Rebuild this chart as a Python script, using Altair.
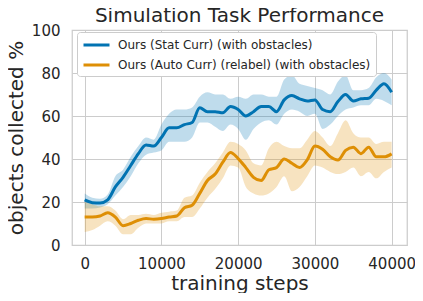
import altair as alt
import pandas as pd

steps = [i * 1000 for i in range(41)]

stat_mean = [21, 19.7, 19.5, 21, 27, 31.5, 37, 42.5, 46.5, 46, 50, 54.5, 54.5, 56, 57,
             63.8, 62, 62, 61.5, 64.4, 63, 60, 62, 64.4, 64.4, 62, 67.5, 69.5, 68, 67,
             67.5, 63, 62, 66.7, 70, 67, 68, 68.3, 72, 75, 71]
stat_low = [17, 17, 17.5, 19, 23, 27, 32, 38, 42, 43, 44, 48, 48, 48, 50,
            57, 57, 55, 53, 56, 54, 49, 54, 57, 58, 56, 61, 63, 62, 60,
            61, 54, 56, 60, 63, 64, 65, 65, 68, 67, 65]
stat_high = [24, 22, 21.5, 23.5, 32, 35, 41, 46, 50, 49, 56, 61, 63, 63, 64,
             69, 71, 70, 70, 68, 69, 68, 70, 70, 69, 69, 77, 79, 75, 74,
             73, 72, 70, 76, 79, 72, 72, 73, 78, 80, 77]

auto_mean = [13, 13, 13.5, 15, 13, 9, 10, 11.5, 12.3, 12, 12.3, 13, 13.5, 17.3, 18.5,
             24, 30, 33, 38.5, 43, 40.2, 36, 31.5, 30, 35, 36, 40, 38, 36, 39.6,
             46, 44.5, 41, 39.5, 44, 45.5, 42.5, 45.5, 41, 41, 42.4]
auto_low = [6, 7, 9, 11, 9, 5, 5, 8, 10, 10, 10, 11, 11, 13, 13,
            17, 22, 26, 31, 37, 36, 27, 24, 23, 24, 27, 32, 25, 27, 32,
            37, 36, 34, 33, 34, 36, 32, 34, 31, 34, 36]
auto_high = [20, 19, 18, 18, 16, 12, 14, 14, 14.5, 14, 15, 15.5, 16, 22, 23,
             29, 34, 38, 43, 48, 47, 44, 38, 37, 45, 48, 46, 45, 45, 49,
             53, 50, 46, 52, 58, 52, 50, 50, 47, 48, 48]

series_names = ["Ours (Stat Curr) (with obstacles)",
                "Ours (Auto Curr) (relabel) (with obstacles)"]
series_colors = ["#0173b2", "#de8f05"]

rows = []
for name, m, lo, hi in [(series_names[0], stat_mean, stat_low, stat_high),
                        (series_names[1], auto_mean, auto_low, auto_high)]:
    for s, a, b, c in zip(steps, m, lo, hi):
        rows.append({"step": s, "series": name, "mean": a, "low": b, "high": c})
df = pd.DataFrame(rows)

font = "DejaVu Sans"
text_color = "#262626"

xscale = alt.Scale(domain=[-1650, 42000], nice=False, zero=False)
yscale = alt.Scale(domain=[0, 100], nice=False)

band = alt.Chart(df).mark_area(opacity=0.25, interpolate="monotone").encode(
    x=alt.X("step:Q", scale=xscale),
    y=alt.Y("low:Q", scale=yscale),
    y2="high:Q",
    fill=alt.Fill("series:N",
                  scale=alt.Scale(domain=series_names[::-1], range=series_colors[::-1]),
                  legend=None),
)

line = alt.Chart(df).mark_line(strokeWidth=3, interpolate="monotone").encode(
    x=alt.X("step:Q", scale=xscale,
            axis=alt.Axis(title="training steps", values=[0, 10000, 20000, 30000, 40000],
                          format="d", titleBaseline="alphabetic", titleY=44)),
    y=alt.Y("mean:Q", scale=yscale,
            axis=alt.Axis(title="objects collected %", values=[0, 20, 40, 60, 80, 100],
                          titleBaseline="alphabetic", titleX=-50, titleY=107.5)),
    color=alt.Color("series:N", scale=alt.Scale(domain=series_names, range=series_colors),
                    legend=alt.Legend(title=None, orient="none", legendX=5, legendY=2,
                                      symbolType="M-1,0L3,0", symbolStrokeWidth=3, symbolSize=169,
                                      labelFontSize=12, labelFont=font, labelColor=text_color,
                                      fillColor="white", strokeColor="#cccccc", cornerRadius=3,
                                      padding=5, rowPadding=6, labelLimit=400, labelOffset=20)),
    order="step:Q",
)

chart = alt.layer(band, line).properties(
    width=335, height=215,
    title=alt.Title("Simulation Task Performance", fontSize=20, font=font, color=text_color,
                    fontWeight="normal", offset=8, dy=11),
    padding={"left": 64, "top": 22, "right": 8, "bottom": 48},
    autosize=alt.AutoSizeParams(type="none"),
).configure_view(
    stroke="#cccccc", strokeWidth=1.25
).configure_axis(
    domain=False, ticks=False, tickSize=0, grid=True, gridColor="#cccccc", gridWidth=1,
    labelFont=font, labelFontSize=15, labelColor=text_color, labelPadding=11,
    titleFont=font, titleFontSize=20, titleColor=text_color, titleFontWeight="normal",
).configure_axisY(labelPadding=12)

chart.save("out.html", embed_options={"renderer": "svg", "actions": False})
